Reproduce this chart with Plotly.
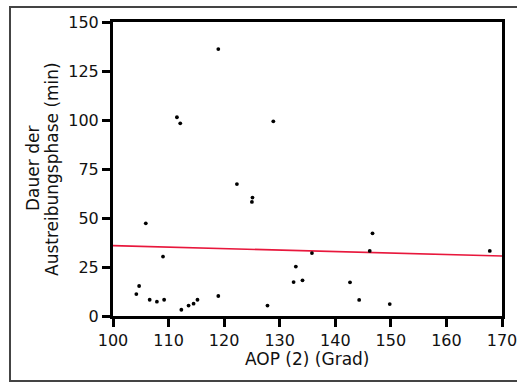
import plotly.graph_objects as go

# AOP (2) angle in degrees vs. duration of the expulsion phase in minutes
aop_grad = [104.2, 104.7, 105.9, 106.6, 107.9, 109.0, 109.2, 111.5, 112.1, 112.3,
            113.6, 114.5, 115.2, 118.95, 118.95, 122.3, 125.0, 125.1, 127.8, 128.85,
            132.5, 132.9, 134.1, 135.8, 142.65, 144.3, 146.2, 146.7, 149.8, 167.8]
dauer_min = [11.2, 15.3, 47.3, 8.3, 7.3, 30.3, 8.3, 101.4, 98.3, 3.2,
             5.3, 6.3, 8.3, 10.2, 136.2, 67.3, 58.2, 60.4, 5.3, 99.3,
             17.3, 25.2, 18.2, 32.1, 17.2, 8.2, 33.2, 42.2, 6.1, 33.2]

# Linear trend line endpoints
fit_x = [100, 170]
fit_y = [35.9, 30.6]

x_ticks = [100, 110, 120, 130, 140, 150, 160, 170]
y_ticks = [0, 25, 50, 75, 100, 125, 150]

x_title = "AOP (2) (Grad)"
y_title_lines = ["Dauer der", "Austreibungsphase (min)"]

W, H = 517, 383
ML, MR, MT, MB = 113, 15, 22, 67
pw, ph = W - ML - MR, H - MT - MB

def px_to_paper_x(px):
    return (px - ML) / pw

def py_to_paper_y(py):
    return (H - MB - py) / ph

font_family = "DejaVu Sans"
text_color = "#111"

fig = go.Figure()
fig.add_trace(go.Scatter(
    x=fit_x, y=fit_y, mode="lines",
    line=dict(color="#e8173c", width=1.6),
    hoverinfo="skip", showlegend=False,
))
fig.add_trace(go.Scatter(
    x=aop_grad, y=dauer_min, mode="markers",
    marker=dict(color="black", size=3.8),
    showlegend=False, cliponaxis=False,
))

axis_common = dict(
    showline=True, linecolor="black", linewidth=3, mirror=True,
    ticks="outside", ticklen=8, tickwidth=3, tickcolor="black",
    showgrid=False, zeroline=False, automargin=False,
    ticklabeloverflow="allow",
    tickfont=dict(family=font_family, size=16, color=text_color),
)

fig.update_xaxes(range=[100, 170], tickvals=x_ticks,
                 ticktext=[str(v) for v in x_ticks], **axis_common)
fig.update_yaxes(range=[0, 150], tickvals=y_ticks,
                 ticktext=[str(v) for v in y_ticks], **axis_common)

# Axis titles
fig.add_annotation(
    text=x_title, xref="paper", yref="paper",
    x=0.5, y=py_to_paper_y(359), xanchor="center", yanchor="middle",
    showarrow=False, font=dict(family=font_family, size=17, color=text_color),
)
for line_text, cx in zip(y_title_lines, [33, 52]):
    fig.add_annotation(
        text=line_text, xref="paper", yref="paper",
        x=px_to_paper_x(cx), y=0.5, xanchor="center", yanchor="middle",
        textangle=-90, showarrow=False,
        font=dict(family=font_family, size=17, color=text_color),
    )

# Outer frame around the whole figure (right side runs off the page edge)
fig.add_shape(
    type="rect", xref="paper", yref="paper",
    x0=px_to_paper_x(10), x1=px_to_paper_x(519),
    y0=py_to_paper_y(381), y1=py_to_paper_y(7),
    line=dict(color="#444", width=2), fillcolor="rgba(0,0,0,0)", layer="below",
)

fig.update_layout(
    width=W, height=H,
    margin=dict(l=ML, r=MR, t=MT, b=MB),
    paper_bgcolor="white", plot_bgcolor="white",
    font=dict(family=font_family),
)

fig.write_html("out.html")
